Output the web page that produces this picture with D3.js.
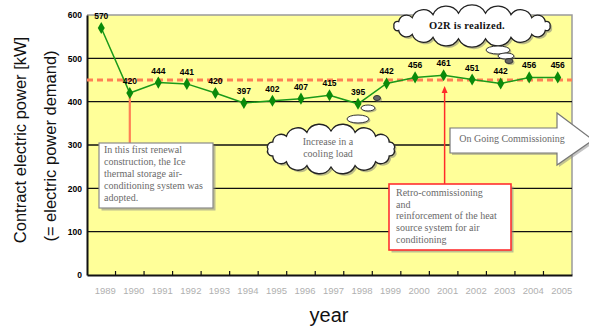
<!DOCTYPE html>
<html>
<head>
<meta charset="utf-8">
<script src="https://cdn.jsdelivr.net/npm/d3@7/dist/d3.min.js"></script>
<style>
  html, body { margin: 0; padding: 0; background: #ffffff; }
  svg { display: block; }
</style>
</head>
<body>
<svg id="chart" width="589" height="327"></svg>
<script>
// Contract electric power by year
const years = ["1989","1990","1991","1992","1993","1994","1995","1996","1997","1998","1999","2000","2001","2002","2003","2004","2005"];
const power = [570, 420, 444, 441, 420, 397, 402, 407, 415, 395, 442, 456, 461, 451, 442, 456, 456];
const yTicks = [0, 100, 200, 300, 400, 500, 600];
const targetLevel = 450;

const svg = d3.select("#chart");
const plot = { left: 87, right: 572, top: 15, bottom: 275 };

const x = d3.scaleBand().domain(years).range([plot.left, plot.right]);
const y = d3.scaleLinear().domain([0, 600]).range([plot.bottom, plot.top]);
const cx = yr => x(yr) + x.bandwidth() / 2;

// plot background
svg.append("rect")
  .attr("x", plot.left).attr("y", plot.top)
  .attr("width", plot.right - plot.left).attr("height", plot.bottom - plot.top)
  .attr("fill", "#ffff99");

// top / right frame
svg.append("path")
  .attr("d", `M${plot.left},${plot.top}H${plot.right}V${plot.bottom}`)
  .attr("fill", "none").attr("stroke", "#9a9a9a").attr("stroke-width", 1.5);

// horizontal grid lines
svg.append("g").selectAll("line")
  .data(yTicks.filter(v => v > 0 && v < 600))
  .join("line")
  .attr("x1", plot.left).attr("x2", plot.right)
  .attr("y1", d => y(d)).attr("y2", d => y(d))
  .attr("stroke", "#111").attr("stroke-width", 1.4);

// y axis
const yAxis = d3.axisLeft(y).tickValues(yTicks).tickSize(0).tickPadding(5);
const gy = svg.append("g").attr("transform", `translate(${plot.left},0)`).call(yAxis);
gy.select(".domain").attr("stroke", "#111").attr("stroke-width", 2);
gy.selectAll("text")
  .attr("font-family", "Liberation Sans, Arial, sans-serif")
  .attr("font-size", 8.5).attr("font-weight", "bold").attr("fill", "#000");

// x axis
const xAxis = d3.axisBottom(x).tickSize(0).tickPadding(12);
const gx = svg.append("g").attr("transform", `translate(0,${plot.bottom})`).call(xAxis);
gx.select(".domain").attr("stroke", "#111").attr("stroke-width", 2);
gx.selectAll("text")
  .attr("font-family", "Liberation Sans, Arial, sans-serif")
  .attr("font-size", 9.5).attr("fill", "#b0b0b0")
  .attr("dx", 4);
// inner tick marks on category boundaries
svg.append("g").selectAll("line")
  .data(years.slice(1))
  .join("line")
  .attr("x1", d => x(d)).attr("x2", d => x(d))
  .attr("y1", plot.bottom).attr("y2", plot.bottom - 4)
  .attr("stroke", "#111").attr("stroke-width", 1.2);

// axis titles
svg.append("text")
  .attr("transform", "translate(26,140) rotate(-90)")
  .attr("text-anchor", "middle")
  .attr("font-family", "Liberation Sans, Arial, sans-serif")
  .attr("font-size", 16.5).attr("fill", "#111")
  .text("Contract electric power [kW]");
svg.append("text")
  .attr("transform", "translate(56,146) rotate(-90)")
  .attr("text-anchor", "middle")
  .attr("font-family", "Liberation Sans, Arial, sans-serif")
  .attr("font-size", 16.5).attr("fill", "#111")
  .text("(= electric power demand)");
svg.append("text")
  .attr("x", 329).attr("y", 322)
  .attr("text-anchor", "middle")
  .attr("font-family", "Liberation Sans, Arial, sans-serif")
  .attr("font-size", 20).attr("fill", "#111")
  .text("year");

// target level dashed line
svg.append("line")
  .attr("x1", plot.left).attr("x2", plot.right)
  .attr("y1", y(targetLevel)).attr("y2", y(targetLevel))
  .attr("stroke", "#ff7f55").attr("stroke-width", 3)
  .attr("stroke-dasharray", "6,4");

// ---- helpers for annotation shapes ----
function cloudPath(ccx, ccy, rx, ry, n) {
  const pts = d3.range(n).map(i => {
    const a = (i / n) * 2 * Math.PI;
    return [ccx + rx * Math.cos(a), ccy + ry * Math.sin(a)];
  });
  let d = `M${pts[0][0]},${pts[0][1]}`;
  for (let i = 1; i <= n; i++) {
    const p0 = pts[i - 1], p1 = pts[i % n];
    const chord = Math.hypot(p1[0] - p0[0], p1[1] - p0[1]);
    const r = chord * 0.56;
    d += `A${r},${r} 0 0 1 ${p1[0]},${p1[1]}`;
  }
  return d + "Z";
}
function cloud(g, ccx, ccy, rx, ry, n) {
  g.append("path").attr("d", cloudPath(ccx + 2, ccy + 2, rx, ry, n))
    .attr("fill", "#777").attr("opacity", 0.5);
  g.append("path").attr("d", cloudPath(ccx, ccy, rx, ry, n))
    .attr("fill", "#fff").attr("stroke", "#222").attr("stroke-width", 1.3);
}
function bubble(g, bx, by, rx, ry, dark) {
  g.append("ellipse").attr("cx", bx + 1.5).attr("cy", by + 1.5).attr("rx", rx).attr("ry", ry)
    .attr("fill", "#777").attr("opacity", 0.5);
  g.append("ellipse").attr("cx", bx).attr("cy", by).attr("rx", rx).attr("ry", ry)
    .attr("fill", dark ? "#666" : "#fff").attr("stroke", "#333").attr("stroke-width", 1);
}
function noteBox(g, bx, by, bw, bh, stroke, sw, lines, tx, ty0, lh) {
  g.append("rect").attr("x", bx + 2.5).attr("y", by + 2.5).attr("width", bw).attr("height", bh)
    .attr("fill", "#888").attr("opacity", 0.55);
  g.append("rect").attr("x", bx).attr("y", by).attr("width", bw).attr("height", bh)
    .attr("fill", "#fff").attr("stroke", stroke).attr("stroke-width", sw);
  const t = g.append("text")
    .attr("font-family", "Liberation Serif, Times New Roman, serif")
    .attr("font-size", 10).attr("fill", "#6a6a6a");
  lines.forEach((s, i) => t.append("tspan").attr("x", tx).attr("y", ty0 + i * lh).text(s));
}

const notes = svg.append("g");

// leader from 1990 to the renewal note
notes.append("line")
  .attr("x1", cx("1990")).attr("x2", cx("1990"))
  .attr("y1", y(power[1])).attr("y2", 143)
  .attr("stroke", "#ff7f55").attr("stroke-width", 2.2);

noteBox(notes, 99, 143, 114, 65, "#8a8a8a", 1.2,
  ["In this first renewal", "construction, the Ice", "thermal storage air-", "conditioning system was", "adopted."],
  104, 153, 12);

// leader from the retro-commissioning note to 2001
const rcx = cx("2001") + 1;
notes.append("line")
  .attr("x1", rcx).attr("x2", rcx)
  .attr("y1", 184).attr("y2", 91)
  .attr("stroke", "#ff2a2a").attr("stroke-width", 1.5);
notes.append("path")
  .attr("d", `M${rcx},86L${rcx - 3},93L${rcx + 3},93Z`)
  .attr("fill", "#ff2a2a");

noteBox(notes, 389, 184, 122, 66, "#ff3030", 1.6,
  ["Retro-commissioning", "and", "reinforcement of the heat", "source system for air", "conditioning"],
  396, 196, 11.7);

// on-going commissioning block arrow
const arrowPts = [[450,128],[557,128],[557,113],[593,140],[557,165],[557,153],[450,153]];
notes.append("path")
  .attr("d", "M" + arrowPts.map(p => `${p[0] + 2},${p[1] + 2}`).join("L") + "Z")
  .attr("fill", "#888").attr("opacity", 0.5);
notes.append("path")
  .attr("d", "M" + arrowPts.map(p => p.join(",")).join("L") + "Z")
  .attr("fill", "#fff").attr("stroke", "#777").attr("stroke-width", 1.2);
notes.append("text")
  .attr("x", 512).attr("y", 141.5).attr("text-anchor", "middle")
  .attr("font-family", "Liberation Serif, Times New Roman, serif")
  .attr("font-size", 10).attr("fill", "#6a6a6a")
  .text("On Going Commissioning");

// cooling load cloud
cloud(notes, 331, 149, 63, 18, 16);
bubble(notes, 358, 119, 11, 4, false);
bubble(notes, 368, 108, 7, 3, false);
bubble(notes, 377, 98, 3.5, 2.5, true);
notes.append("text")
  .attr("text-anchor", "middle")
  .attr("font-family", "Liberation Serif, Times New Roman, serif")
  .attr("font-size", 10).attr("fill", "#6a6a6a")
  .call(t => {
    t.append("tspan").attr("x", 328).attr("y", 145).text("Increase in a");
    t.append("tspan").attr("x", 328).attr("y", 157).text("cooling load");
  });

// O2R cloud
cloud(notes, 472, 26, 78, 13, 18);
bubble(notes, 498, 50, 12, 4, false);
bubble(notes, 506, 56, 8, 3, false);
bubble(notes, 509, 61, 4, 2.5, true);
notes.append("text")
  .attr("x", 467).attr("y", 28.5).attr("text-anchor", "middle")
  .attr("font-family", "Liberation Serif, Times New Roman, serif")
  .attr("font-size", 10.5).attr("font-weight", "bold").attr("fill", "#111").attr("letter-spacing", 0.3)
  .text("O2R is realized.");

// power series
const rows = years.map((yr, i) => ({ yr, v: power[i] }));
svg.append("path")
  .datum(rows)
  .attr("d", d3.line().x(d => cx(d.yr)).y(d => y(d.v)))
  .attr("fill", "none").attr("stroke", "#1a9a1a").attr("stroke-width", 1.5);
svg.append("g").selectAll("path")
  .data(rows)
  .join("path")
  .attr("transform", d => `translate(${cx(d.yr)},${y(d.v)})`)
  .attr("d", d3.symbol(d3.symbolDiamond, 42))
  .attr("fill", "#0a8a0a");

// value labels
svg.append("g").selectAll("text")
  .data(rows)
  .join("text")
  .attr("x", d => cx(d.yr)).attr("y", d => y(d.v) - 9)
  .attr("text-anchor", "middle")
  .attr("font-family", "Liberation Sans, Arial, sans-serif")
  .attr("font-size", 8.5).attr("font-weight", "bold").attr("fill", "#000")
  .text(d => d.v);
</script>
</body>
</html>
